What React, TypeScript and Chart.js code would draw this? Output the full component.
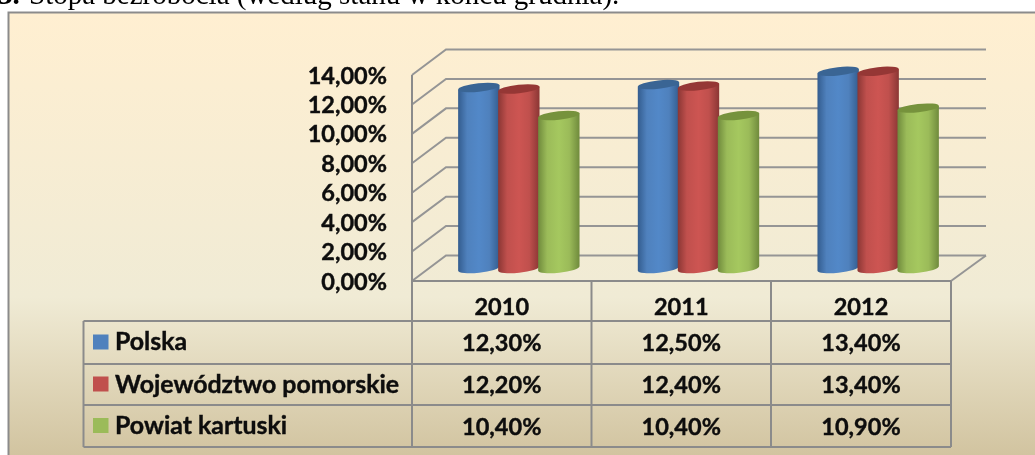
import React, { useEffect, useRef } from "react";
import { Chart, registerables } from "chart.js";

Chart.register(...registerables);

const years = ["2010", "2011", "2012"];
const seriesNames = ["Polska", "Województwo pomorskie", "Powiat kartuski"];
const polska = [12.3, 12.5, 13.4];
const pomorskie = [12.2, 12.4, 13.4];
const kartuski = [10.4, 10.4, 10.9];
const seriesColors = ["#4F81BD", "#C0504D", "#9BBB59"];
const brightColors = ["#5288C8", "#CD5552", "#A5C85F"];
const edgeColors = ["#335C8E", "#8A3634", "#6F8A3C"];
const capColors = ["#3A6594", "#953735", "#76923C"];
const titleLead = "3.";
const titleRest = "Stopa bezrobocia (według stanu w końcu grudnia).";

const W = 1035;
const H = 455;
const FONT = "bold 23.5px Lato";
const LABEL_FONT = "bold 24.9px Lato";
const TEXT = "#0d0d0d";
const LINE = "#8b8b8b";
const WALL_LINE = "#959595";
const STROKE = 0.4;
const PX_PER_UNIT = 206 / 14;
const PLANE = { frontLeft: 412, frontRight: 951, backLeft: 446, backRight: 986, rise: 25.5 };
const TABLE_X = [83.5, 412, 591.5, 771, 951];
const TABLE_Y = [281, 321, 364, 405, 447];
const fmt = (v: number) => v.toFixed(2).replace(".", ",") + "%";

function boldText(c: any, s: string, x: number, y: number) {
  c.fillText(s, x, y);
  c.strokeText(s, x, y);
}

const scene = {
  id: "scene",
  beforeDraw(chart: any) {
    const c = chart.ctx;
    c.save();
    c.fillStyle = "#fff";
    c.fillRect(0, 0, W, H);
    // heading, cut by the crop
    c.fillStyle = "#000";
    c.textBaseline = "alphabetic";
    c.textAlign = "left";
    c.font = "bold 29px 'Liberation Serif'";
    c.fillText(titleLead, -2, 4);
    c.font = "29px 'Liberation Serif'";
    c.fillText(titleRest, 29, 4);
    // panel
    const g = c.createLinearGradient(0, 12, 0, 458);
    g.addColorStop(0, "#FFEFD1");
    g.addColorStop(0.64, "#F0EBD5");
    g.addColorStop(1, "#D1C39F");
    c.fillStyle = g;
    c.fillRect(8, 12, W - 8, H - 12);
    c.strokeStyle = LINE;
    c.lineWidth = 2;
    c.beginPath();
    c.moveTo(W + 2, 12.5);
    c.lineTo(8.5, 12.5);
    c.lineTo(8.5, H + 2);
    c.stroke();
    // walls
    const wall = chart.scales.y2;
    c.strokeStyle = WALL_LINE;
    c.lineWidth = 2;
    wall.ticks.forEach((t: any) => {
      const py = wall.getPixelForValue(t.value);
      c.beginPath();
      c.moveTo(PLANE.frontLeft, py);
      c.lineTo(PLANE.backLeft, py - PLANE.rise);
      c.lineTo(PLANE.backRight, py - PLANE.rise);
      c.stroke();
    });
    const y0 = wall.getPixelForValue(0);
    c.beginPath();
    c.moveTo(PLANE.frontRight, y0);
    c.lineTo(PLANE.backRight, y0 - PLANE.rise);
    c.stroke();
    c.restore();
  },
  beforeDatasetDraw() {
    return false;
  },
  afterDatasetsDraw(chart: any) {
    const c = chart.ctx;
    const rot = (-6 * Math.PI) / 180;
    const ry = 4.2;
    chart.data.datasets.forEach((_: any, i: number) => {
      chart.getDatasetMeta(i).data.forEach((el: any) => {
        const rx = el.width / 2;
        const dx = rx * Math.cos(rot);
        const dy = rx * Math.sin(rot);
        const g = c.createLinearGradient(el.x - rx, 0, el.x + rx, 0);
        g.addColorStop(0, edgeColors[i]);
        g.addColorStop(0.22, seriesColors[i]);
        g.addColorStop(0.5, brightColors[i]);
        g.addColorStop(0.75, seriesColors[i]);
        g.addColorStop(1, edgeColors[i]);
        c.save();
        c.fillStyle = g;
        c.beginPath();
        c.moveTo(el.x - dx, el.y - dy);
        c.lineTo(el.x - dx, el.base - dy);
        c.ellipse(el.x, el.base, rx, ry, rot, Math.PI, 0, true);
        c.lineTo(el.x + dx, el.y + dy);
        c.closePath();
        c.fill();
        c.fillStyle = capColors[i];
        c.beginPath();
        c.ellipse(el.x, el.y, rx, ry, rot, 0, Math.PI * 2);
        c.fill();
        c.restore();
      });
    });
  },
  afterDraw(chart: any) {
    const c = chart.ctx;
    c.save();
    c.strokeStyle = LINE;
    c.lineWidth = 2;
    c.beginPath();
    c.moveTo(TABLE_X[1], 75);
    c.lineTo(TABLE_X[1], TABLE_Y[4]);
    TABLE_X.slice(2).forEach((x) => {
      c.moveTo(x, TABLE_Y[0]);
      c.lineTo(x, TABLE_Y[4]);
    });
    c.moveTo(TABLE_X[0], TABLE_Y[1]);
    c.lineTo(TABLE_X[0], TABLE_Y[4]);
    c.moveTo(TABLE_X[1], TABLE_Y[0]);
    c.lineTo(TABLE_X[4], TABLE_Y[0]);
    TABLE_Y.slice(1).forEach((y) => {
      c.moveTo(TABLE_X[0], y);
      c.lineTo(TABLE_X[4], y);
    });
    c.stroke();

    c.fillStyle = TEXT;
    c.strokeStyle = TEXT;
    c.lineWidth = STROKE;
    c.textBaseline = "middle";
    c.textAlign = "center";
    c.font = FONT;
    const colC = (k: number) => (TABLE_X[k + 1] + TABLE_X[k + 2]) / 2;
    chart.data.labels.forEach((year: string, k: number) => {
      boldText(c, year, colC(k), 307.5);
    });
    const rowY = [343.5, 385.5, 427];
    const labelY = [342, 384.5, 425.5];
    const keyY = [334.5, 376.5, 418];
    chart.data.datasets.forEach((ds: any, r: number) => {
      c.fillStyle = TEXT;
      c.textAlign = "center";
      c.font = FONT;
      ds.data.forEach((v: number, k: number) => {
        boldText(c, fmt(v), colC(k), rowY[r]);
      });
      c.textAlign = "left";
      c.font = LABEL_FONT;
      boldText(c, ds.label, 115, labelY[r]);
      c.fillStyle = ds.backgroundColor;
      c.fillRect(93, keyY[r], 15.5, 15);
    });
    c.restore();
  },
};

export default function App() {
  const ref = useRef<HTMLCanvasElement>(null);
  useEffect(() => {
    const shift = 12.5 / PX_PER_UNIT;
    const span = (281 - 49.5) / PX_PER_UNIT;
    const chart = new Chart(ref.current as HTMLCanvasElement, {
      type: "bar",
      data: {
        labels: years,
        datasets: [polska, pomorskie, kartuski].map((data, i) => ({
          label: seriesNames[i],
          data,
          backgroundColor: seriesColors[i],
          yAxisID: "y",
          categoryPercentage: 0.668,
          barPercentage: 1.04,
        })),
      },
      options: {
        animation: false,
        responsive: false,
        layout: { padding: { left: 0, right: W - 968, top: 49.5, bottom: H - 281 } },
        plugins: { legend: { display: false }, title: { display: false }, tooltip: { enabled: false } },
        scales: {
          x: { display: false },
          y: { display: false, min: -shift, max: span - shift },
          y2: {
            position: "left",
            min: 0,
            max: span,
            grid: { display: false, drawTicks: false },
            border: { display: false },
            afterBuildTicks: (s: any) => {
              s.ticks = s.ticks.filter((t: any) => t.value <= 14);
            },
            afterFit: (s: any) => {
              s.width = 429;
              s.paddingTop = 0;
              s.paddingBottom = 0;
            },
            ticks: {
              stepSize: 2,
              autoSkip: false,
              padding: 42,
              labelOffset: 1,
              color: TEXT,
              textStrokeColor: TEXT,
              textStrokeWidth: STROKE,
              font: { family: "Lato", weight: "bold", size: 23.5 },
              callback: (v: any) => fmt(Number(v)),
            },
          },
        },
      },
      plugins: [scene],
    } as any);
    return () => chart.destroy();
  }, []);
  return (
    <div style={{ position: "absolute", left: 0, top: 0, width: W, height: H, overflow: "hidden" }}>
      <canvas ref={ref} width={W} height={H} style={{ display: "block" }} />
    </div>
  );
}
